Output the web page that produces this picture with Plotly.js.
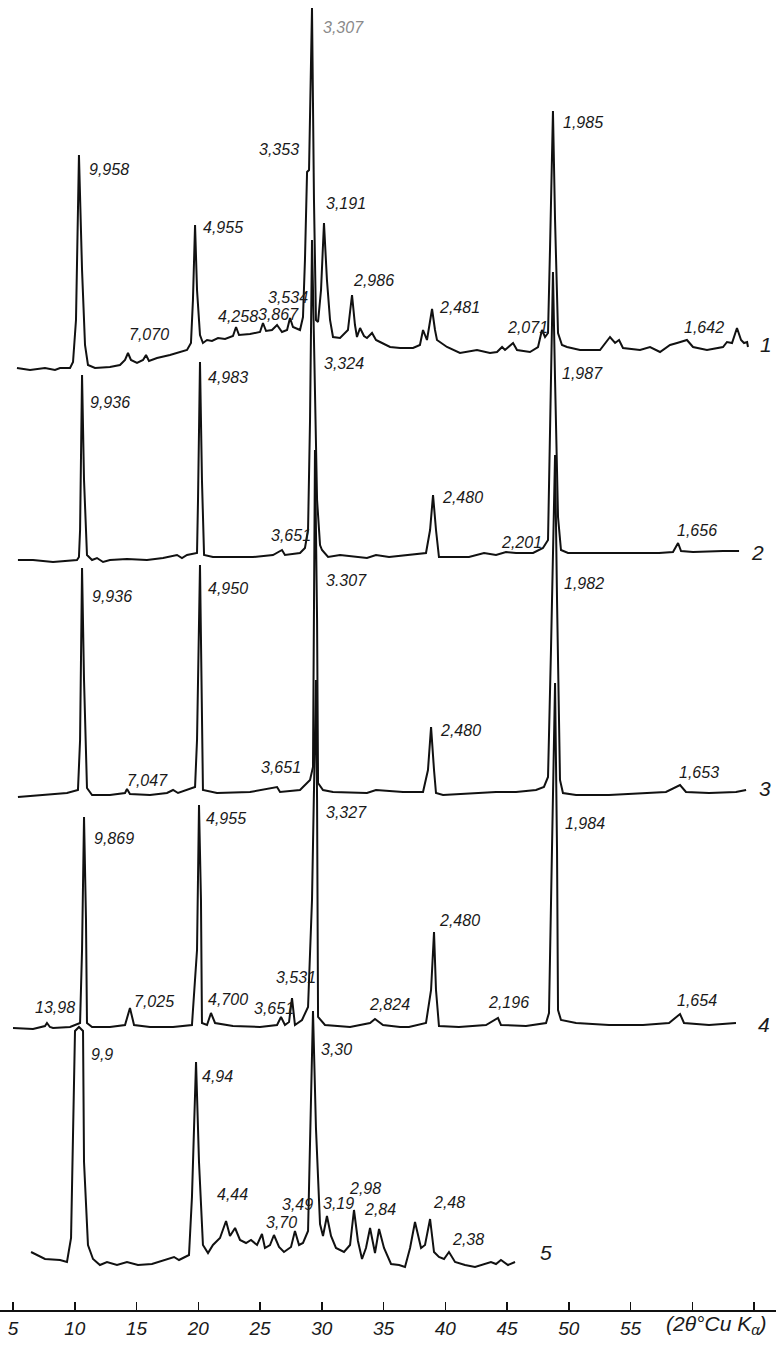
<!DOCTYPE html>
<html>
<head>
<meta charset="utf-8">
<script src="https://cdn.plot.ly/plotly-3.0.1.min.js"></script>
<style>
  html, body { margin: 0; padding: 0; background: #ffffff; }
  #chart { width: 776px; height: 1345px; }
</style>
</head>
<body>
<div id="chart"></div>
<script>
// ---------- DATA (2θ in degrees, intensity in arbitrary units above each pattern's baseline) ----------
const twoTheta1 = [5.32,6.38,7.59,8.40,8.81,9.62,9.86,10.10,10.34,10.59,10.83,11.07,11.64,12.85,13.66,14.07,14.31,14.55,15.04,15.53,15.77,16.01,16.66,17.71,19.09,19.41,19.57,19.74,19.90,20.14,20.38,20.71,21.11,21.60,22.17,22.81,23.06,23.30,24.19,25.00,25.24,25.49,25.97,26.38,26.78,27.19,27.43,27.67,28.24,28.48,28.64,28.81,28.97,29.21,29.37,29.53,29.70,29.94,30.18,30.42,30.67,30.91,31.48,32.12,32.45,32.69,32.85,33.10,33.42,33.66,34.07,34.39,34.72,35.53,36.34,37.39,37.95,38.20,38.52,38.93,39.17,39.33,40.14,41.19,42.57,43.62,44.19,44.60,44.84,45.49,45.81,46.86,47.51,47.83,48.08,48.32,48.48,48.72,48.89,49.13,49.45,49.86,50.91,52.53,53.34,53.75,54.07,54.39,55.77,56.58,57.39,58.20,58.77,59.57,60.06,61.19,62.49,62.81,63.22,63.62,63.95,64.19,64.44,64.51];
const counts1   = [2,0,2,0,2,2,8,50,215,100,25,5,2,3,5,10,17,10,7,10,15,9,12,15,20,27,70,145,80,35,27,30,29,32,31,34,43,35,36,38,47,39,40,45,38,40,52,43,40,53,110,198,200,362,170,50,48,80,147,90,50,33,32,40,75,45,33,42,34,32,37,30,28,23,22,22,25,40,30,61,40,30,23,17,20,17,18,23,20,27,20,18,23,40,33,37,120,259,150,37,25,23,20,20,33,27,30,22,20,23,18,25,27,30,23,20,23,28,27,42,30,27,28,23];

const twoTheta2 = [5.40,6.62,8.24,10.18,10.34,10.43,10.59,10.75,10.99,11.40,11.80,12.29,12.85,14.23,15.85,17.15,18.28,18.68,19.09,19.90,19.98,20.14,20.30,20.47,21.19,22.81,24.43,26.05,26.78,27.02,28.24,28.64,28.89,29.05,29.21,29.37,29.62,29.86,30.02,30.51,31.48,33.66,34.39,35.45,37.06,38.44,38.77,39.01,39.25,39.49,40.63,41.92,43.14,44.11,44.92,45.73,47.11,47.91,48.32,48.48,48.72,48.89,49.13,49.37,49.94,51.96,54.64,57.31,58.44,58.85,59.09,60.06,62.49,63.79];
const counts2   = [0,0,-2,0,3,30,185,80,5,0,2,-2,0,1,0,2,5,2,5,7,60,198,80,5,3,3,3,5,10,5,7,12,30,140,320,220,60,15,10,3,5,2,5,3,5,7,30,65,30,3,3,3,7,5,8,7,7,12,20,130,288,180,43,10,7,7,7,7,8,17,9,8,9,9];

const twoTheta3 = [5.40,7.19,9.37,10.26,10.43,10.59,10.75,10.99,11.40,12.85,14.07,14.23,14.47,16.09,17.47,17.96,18.36,19.74,19.90,20.14,20.30,20.38,21.52,24.19,26.38,26.62,28.24,29.05,29.29,29.37,29.45,29.62,29.70,30.10,30.91,33.66,34.39,36.58,38.20,38.60,38.85,39.09,39.25,39.82,42.49,44.11,45.73,47.35,47.99,48.32,48.56,48.89,49.05,49.29,49.53,50.59,53.26,56.01,57.87,59.01,59.49,61.36,63.54,64.36];
const counts3   = [-2,0,2,5,55,227,115,7,0,0,2,6,1,0,2,5,2,8,55,230,105,5,2,3,8,3,5,15,28,145,345,175,12,5,3,2,5,3,3,25,68,25,2,0,2,3,3,5,8,18,145,340,195,15,2,0,0,2,3,10,3,2,3,5];

const twoTheta4 = [5.00,6.62,7.59,7.75,7.99,8.24,9.62,10.43,10.59,10.75,10.91,10.99,11.40,12.85,14.07,14.47,14.80,16.09,17.96,19.49,19.90,20.06,20.22,20.30,20.71,21.03,21.36,22.81,25.00,26.38,26.70,27.02,27.35,27.59,27.83,28.40,28.89,29.21,29.53,29.62,29.70,30.26,32.29,33.91,34.31,34.96,36.34,37.06,38.44,38.85,39.09,39.25,39.49,41.11,43.30,44.27,44.51,46.54,48.16,48.40,48.64,48.89,49.05,49.13,49.37,50.59,53.26,56.01,58.12,59.01,59.33,61.36,63.54];
const counts4   = [0,-1,2,5,1,0,1,5,78,211,108,5,1,1,3,20,3,1,1,3,78,223,128,5,3,15,5,2,1,3,11,3,6,30,3,8,21,128,348,228,11,3,1,5,9,3,1,1,5,38,96,38,2,1,3,10,3,2,5,15,178,345,178,18,8,5,3,3,5,14,5,3,5];

const twoTheta5 = [6.46,7.59,8.81,9.37,9.70,9.86,10.02,10.34,10.67,10.75,11.07,11.48,12.04,12.61,13.42,14.23,15.12,16.25,17.31,18.04,18.44,19.25,19.49,19.82,20.06,20.38,20.79,21.19,21.76,22.25,22.57,22.98,23.38,23.87,24.27,24.76,25.16,25.40,25.81,26.13,26.54,26.94,27.51,27.83,28.16,28.48,28.89,29.05,29.29,29.53,29.86,30.10,30.42,30.75,31.15,31.80,32.29,32.61,32.93,33.26,33.58,33.91,34.31,34.64,35.04,35.61,36.26,36.74,37.15,37.55,38.04,38.36,38.77,39.09,39.49,39.90,40.30,40.79,41.60,42.41,43.30,43.70,44.11,44.51,45.08,45.65];
const counts5   = [13,6,5,3,27,137,234,238,234,103,20,6,0,3,0,3,0,1,5,8,5,10,68,203,103,20,12,20,27,44,29,37,25,22,25,20,31,17,20,30,18,13,18,34,20,22,34,137,254,137,41,29,49,29,17,13,20,55,24,6,17,37,12,36,17,1,0,-2,17,43,17,20,46,13,8,6,13,3,0,-2,1,3,1,5,0,3];

// d-spacing labels (Å) for each pattern
const dText1 = ['9,958','7,070','4,955','4,258','3,867','3,534','3,353','3,307','3,191','2,986','2,481','2,071','1,985','1,642'];
const dText2 = ['9,936','4,983','3,651','3,324','2,480','2,201','1,987','1,656'];
const dText3 = ['9,936','7,047','4,950','3,651','3.307','2,480','1,982','1,653'];
const dText4 = ['13,98','9,869','7,025','4,955','4,700','3,651','3,531','3,327','2,824','2,480','2,196','1,984','1,654'];
const dText5 = ['9,9','4,94','3,30','4,44','3,70','3,49','3,19','2,98','2,84','2,48','2,38'];

// label anchors (2θ of the text's left edge, height above the pattern baseline)
const dAt2T1 = [11.07,14.31,20.30,21.52,24.76,25.57,24.84,30.02,30.26,32.45,39.41,44.92,49.45,59.25];
const dAtI1  = [201,36,143,54,56,73,221,343,167,90,63,43,248,43];
const dAt2T2 = [11.15,20.71,25.81,30.10,39.66,44.43,49.37,58.69];
const dAtI2  = [158,183,25,197,63,18,187,30];
const dAt2T3 = [11.32,14.15,20.71,25.00,30.26,39.49,49.53,58.85];
const dAtI3  = [199,15,207,28,215,65,212,23];
const dAt2T4 = [6.70,11.48,14.72,20.55,20.71,24.43,26.21,30.26,33.74,39.41,43.38,49.62,58.69];
const dAtI4  = [21,190,27,210,29,20,51,216,24,108,26,205,28];
const dAt2T5 = [11.23,20.22,29.86,21.44,25.40,26.70,30.02,32.12,33.34,38.93,40.47];
const dAtI5  = [211,189,216,71,43,61,62,77,56,63,26];

// pattern numbers and where they sit
const patternNames = ['1','2','3','4','5'];
const nameAt2T = [65.93,65.32,65.89,65.81,48.16];
const nameAtI  = [26,8,7,4,13];

// vertical offsets of the stacked patterns
const offsets = [940,750,515,282,45];

// x axis ticks
const tickValues = [5,10,15,20,25,30,35,40,45,50,55];
const tickLabels = ['5','10','15','20','25','30','35','40','45','50','55'];
const extraTicks = [60,65];
const axisName = '(2θ°Cu K<sub>α</sub>)';

// ---------- BUILD ----------
const FONT = 'Liberation Sans, Arial, sans-serif';
const series = [
  [twoTheta1, counts1, dText1, dAt2T1, dAtI1],
  [twoTheta2, counts2, dText2, dAt2T2, dAtI2],
  [twoTheta3, counts3, dText3, dAt2T3, dAtI3],
  [twoTheta4, counts4, dText4, dAt2T4, dAtI4],
  [twoTheta5, counts5, dText5, dAt2T5, dAtI5]
];

const traces = [];
const annotations = [];
series.forEach((s, k) => {
  const off = offsets[k];
  traces.push({
    type: 'scatter', mode: 'lines',
    x: s[0], y: s[1].map(v => v + off),
    line: { color: '#111111', width: 2, shape: 'linear' },
    hoverinfo: 'skip'
  });
  s[2].forEach((t, i) => {
    annotations.push({
      xref: 'x', yref: 'y', x: s[3][i], y: s[4][i] + off,
      text: t, showarrow: false, xanchor: 'left', yanchor: 'middle', borderpad: 0,
      font: { family: FONT, size: 16, style: 'italic', color: (k === 0 && t === '3,307') ? '#8a8a8a' : '#1a1a1a' }
    });
  });
  annotations.push({
    xref: 'x', yref: 'y', x: nameAt2T[k], y: nameAtI[k] + off,
    text: patternNames[k], showarrow: false, xanchor: 'center', yanchor: 'middle',
    font: { family: FONT, size: 21, style: 'italic', color: '#1a1a1a' }
  });
});

annotations.push({
  xref: 'x', yref: 'paper', x: 57.7, y: -15 / 1310, text: axisName, showarrow: false,
  xanchor: 'left', yanchor: 'middle',
  font: { family: FONT, size: 21, style: 'italic', color: '#1a1a1a' }
});

const layout = {
  width: 776, height: 1345,
  margin: { l: 0, r: 0, t: 0, b: 35, pad: 0 },
  paper_bgcolor: '#ffffff', plot_bgcolor: '#ffffff',
  showlegend: false,
  xaxis: {
    range: [3.947, 66.78], tickmode: 'array', tickvals: tickValues, ticktext: tickLabels,
    ticks: 'inside', ticklen: 8, tickwidth: 1.5, tickcolor: '#111111',
    minor: { tickmode: 'array', tickvals: extraTicks, ticks: 'inside', ticklen: 8, tickwidth: 1.5, tickcolor: '#111111', showgrid: false },
    showline: true, linecolor: '#111111', linewidth: 2,
    showgrid: false, zeroline: false, fixedrange: true,
    tickfont: { family: FONT, size: 19, style: 'italic', color: '#1a1a1a' }
  },
  yaxis: { range: [0, 1310], visible: false, showgrid: false, zeroline: false, fixedrange: true },
  annotations: annotations
};

Plotly.newPlot('chart', traces, layout, { displayModeBar: false, staticPlot: true });
</script>
</body>
</html>
